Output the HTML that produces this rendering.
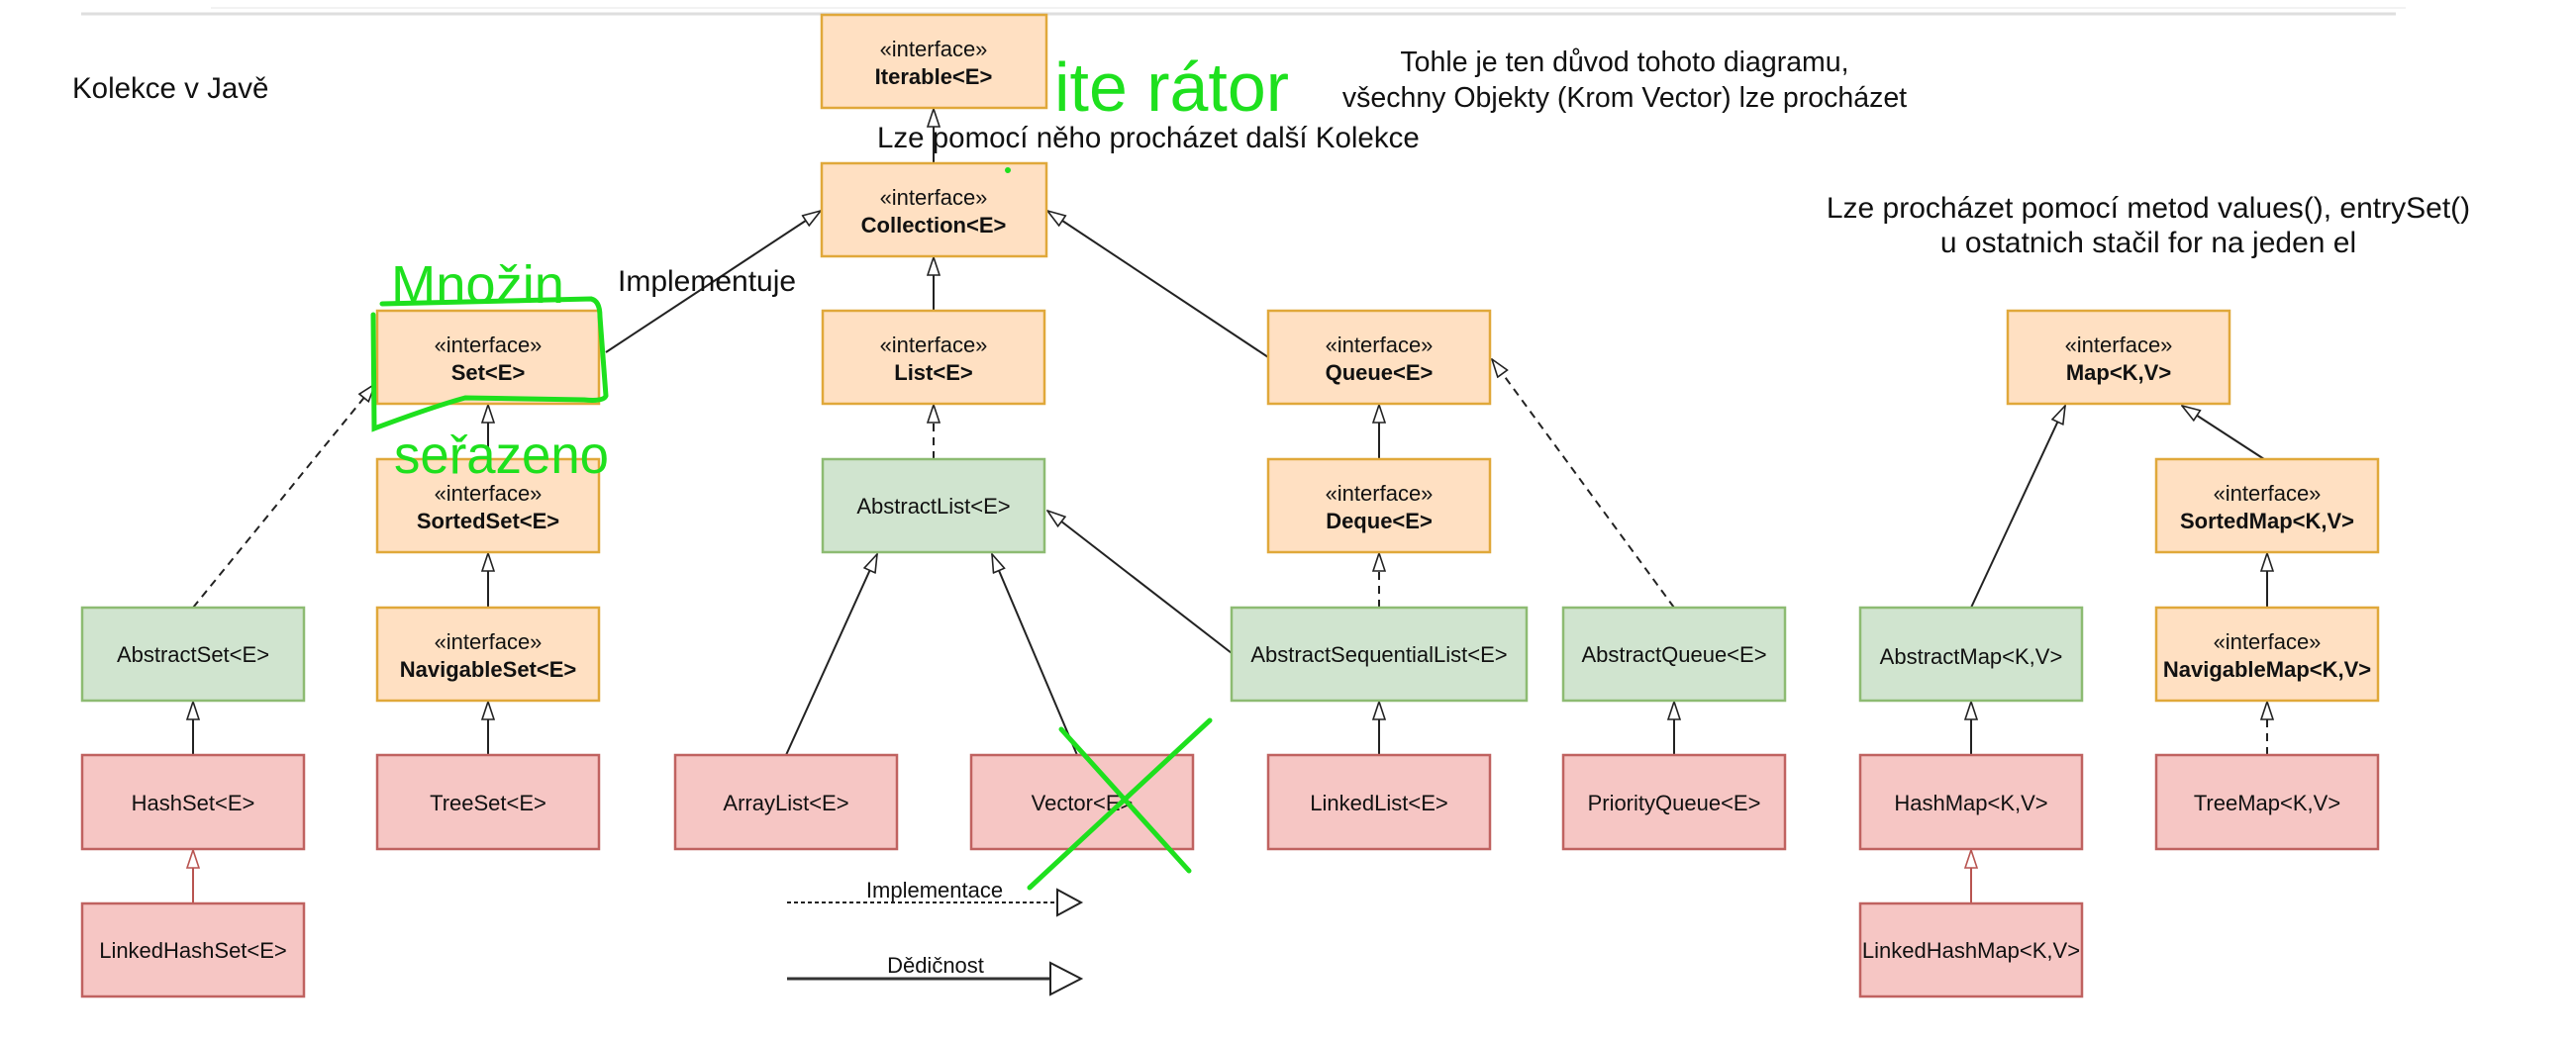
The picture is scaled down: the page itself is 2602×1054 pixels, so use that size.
<!DOCTYPE html>
<html><head><meta charset="utf-8"><style>
html,body{margin:0;padding:0;background:#fff;}
svg{display:block;}
text{font-family:"Liberation Sans",Arial,sans-serif;}
</style></head><body>
<svg width="2602" height="1054" viewBox="0 0 2602 1054" xmlns="http://www.w3.org/2000/svg">
<defs>
<marker id="tri" viewBox="0 0 20 14" refX="19" refY="7" markerWidth="20" markerHeight="14" markerUnits="userSpaceOnUse" orient="auto">
<path d="M1,1 L19,7 L1,13 Z" fill="#fff" stroke="#222" stroke-width="1.6"/>
</marker>
<marker id="trir" viewBox="0 0 20 14" refX="19" refY="7" markerWidth="20" markerHeight="14" markerUnits="userSpaceOnUse" orient="auto">
<path d="M1,1 L19,7 L1,13 Z" fill="#fff" stroke="#b85450" stroke-width="1.6"/>
</marker>
</defs>
<line x1="213" y1="8" x2="2430" y2="8" stroke="#f2f2f2" stroke-width="2"/>
<line x1="82" y1="14" x2="2420" y2="14" stroke="#dedede" stroke-width="3"/>

<g stroke="#222" stroke-width="2" fill="none">
<line x1="943" y1="165" x2="943" y2="110" marker-end="url(#tri)"/>
<line x1="612" y1="356" x2="829" y2="213" marker-end="url(#tri)"/>
<line x1="1281" y1="361" x2="1058" y2="213" marker-end="url(#tri)"/>
<line x1="943" y1="314" x2="943" y2="260" marker-end="url(#tri)"/>
<line x1="943" y1="464" x2="943" y2="409" stroke-dasharray="8,6" marker-end="url(#tri)"/>
<line x1="493" y1="464" x2="493" y2="409" marker-end="url(#tri)"/>
<line x1="195" y1="614" x2="379" y2="388" stroke-dasharray="8,6" marker-end="url(#tri)"/>
<line x1="493" y1="614" x2="493" y2="559" marker-end="url(#tri)"/>
<line x1="195" y1="763" x2="195" y2="709" marker-end="url(#tri)"/>
<line x1="493" y1="763" x2="493" y2="709" marker-end="url(#tri)"/>
<line x1="794" y1="763" x2="886" y2="560" marker-end="url(#tri)"/>
<line x1="1088" y1="763" x2="1002" y2="560" marker-end="url(#tri)"/>
<line x1="1244" y1="660" x2="1058" y2="516" marker-end="url(#tri)"/>
<line x1="1393" y1="464" x2="1393" y2="409" marker-end="url(#tri)"/>
<line x1="1393" y1="614" x2="1393" y2="559" stroke-dasharray="8,6" marker-end="url(#tri)"/>
<line x1="1393" y1="763" x2="1393" y2="709" marker-end="url(#tri)"/>
<line x1="1691" y1="614" x2="1507" y2="363" stroke-dasharray="8,6" marker-end="url(#tri)"/>
<line x1="1691" y1="763" x2="1691" y2="709" marker-end="url(#tri)"/>
<line x1="1991" y1="614" x2="2086" y2="410" marker-end="url(#tri)"/>
<line x1="2287" y1="464" x2="2204" y2="410" marker-end="url(#tri)"/>
<line x1="2290" y1="614" x2="2290" y2="559" marker-end="url(#tri)"/>
<line x1="1991" y1="763" x2="1991" y2="709" marker-end="url(#tri)"/>
<line x1="2290" y1="763" x2="2290" y2="709" stroke-dasharray="8,6" marker-end="url(#tri)"/>
</g>
<line x1="195" y1="913" x2="195" y2="859" stroke="#b85450" stroke-width="2" marker-end="url(#trir)"/>
<line x1="1991" y1="913" x2="1991" y2="859" stroke="#b85450" stroke-width="2" marker-end="url(#trir)"/>

<g fill="#ffe0c2" stroke="#e0a83a" stroke-width="2.5">
<rect x="830" y="15" width="227" height="94"/>
<rect x="830" y="165" width="227" height="94"/>
<rect x="381" y="314" width="224" height="94"/>
<rect x="831" y="314" width="224" height="94"/>
<rect x="1281" y="314" width="224" height="94"/>
<rect x="2028" y="314" width="224" height="94"/>
<rect x="381" y="464" width="224" height="94"/>
<rect x="1281" y="464" width="224" height="94"/>
<rect x="2178" y="464" width="224" height="94"/>
<rect x="381" y="614" width="224" height="94"/>
<rect x="2178" y="614" width="224" height="94"/>
</g>
<g fill="#d0e4cf" stroke="#8dbb72" stroke-width="2.5">
<rect x="831" y="464" width="224" height="94"/>
<rect x="83" y="614" width="224" height="94"/>
<rect x="1244" y="614" width="298" height="94"/>
<rect x="1579" y="614" width="224" height="94"/>
<rect x="1879" y="614" width="224" height="94"/>
</g>
<g fill="#f6c6c4" stroke="#c06260" stroke-width="2.5">
<rect x="83" y="763" width="224" height="95"/>
<rect x="381" y="763" width="224" height="95"/>
<rect x="682" y="763" width="224" height="95"/>
<rect x="981" y="763" width="224" height="95"/>
<rect x="1281" y="763" width="224" height="95"/>
<rect x="1579" y="763" width="224" height="95"/>
<rect x="1879" y="763" width="224" height="95"/>
<rect x="2178" y="763" width="224" height="95"/>
<rect x="83" y="913" width="224" height="94"/>
<rect x="1879" y="913" width="224" height="94"/>
</g>

<g font-size="22" text-anchor="middle" fill="#111">
<text x="943" y="57">«interface»</text><text x="943" y="85" font-weight="bold">Iterable&lt;E&gt;</text>
<text x="943" y="207">«interface»</text><text x="943" y="235" font-weight="bold">Collection&lt;E&gt;</text>
<text x="493" y="356">«interface»</text><text x="493" y="384" font-weight="bold">Set&lt;E&gt;</text>
<text x="943" y="356">«interface»</text><text x="943" y="384" font-weight="bold">List&lt;E&gt;</text>
<text x="1393" y="356">«interface»</text><text x="1393" y="384" font-weight="bold">Queue&lt;E&gt;</text>
<text x="2140" y="356">«interface»</text><text x="2140" y="384" font-weight="bold">Map&lt;K,V&gt;</text>
<text x="493" y="506">«interface»</text><text x="493" y="534" font-weight="bold">SortedSet&lt;E&gt;</text>
<text x="1393" y="506">«interface»</text><text x="1393" y="534" font-weight="bold">Deque&lt;E&gt;</text>
<text x="2290" y="506">«interface»</text><text x="2290" y="534" font-weight="bold">SortedMap&lt;K,V&gt;</text>
<text x="493" y="656">«interface»</text><text x="493" y="684" font-weight="bold">NavigableSet&lt;E&gt;</text>
<text x="2290" y="656">«interface»</text><text x="2290" y="684" font-weight="bold">NavigableMap&lt;K,V&gt;</text>
<text x="943" y="519">AbstractList&lt;E&gt;</text>
<text x="195" y="669">AbstractSet&lt;E&gt;</text>
<text x="1393" y="669">AbstractSequentialList&lt;E&gt;</text>
<text x="1691" y="669">AbstractQueue&lt;E&gt;</text>
<text x="1991" y="671">AbstractMap&lt;K,V&gt;</text>
<text x="195" y="819">HashSet&lt;E&gt;</text>
<text x="493" y="819">TreeSet&lt;E&gt;</text>
<text x="794" y="819">ArrayList&lt;E&gt;</text>
<text x="1093" y="819">Vector&lt;E&gt;</text>
<text x="1393" y="819">LinkedList&lt;E&gt;</text>
<text x="1691" y="819">PriorityQueue&lt;E&gt;</text>
<text x="1991" y="819">HashMap&lt;K,V&gt;</text>
<text x="2290" y="819">TreeMap&lt;K,V&gt;</text>
<text x="195" y="968">LinkedHashSet&lt;E&gt;</text>
<text x="1991" y="968">LinkedHashMap&lt;K,V&gt;</text>
</g>

<g fill="#111">
<text x="73" y="99" font-size="29.5">Kolekce v Javě</text>
<text x="886" y="149" font-size="29.5">Lze pomocí něho procházet další Kolekce</text>
<text x="624" y="294" font-size="30">Implementuje</text>
<text x="1641" y="72" text-anchor="middle" font-size="28.5">Tohle je ten důvod tohoto diagramu,</text>
<text x="1641" y="108" text-anchor="middle" font-size="28.5">všechny Objekty (Krom Vector) lze procházet</text>
<text x="2170" y="220" text-anchor="middle" font-size="30">Lze procházet pomocí metod values(), entrySet()</text>
<text x="2170" y="255" text-anchor="middle" font-size="30">u ostatnich stačil for na jeden el</text>
</g>

<text x="944" y="907" font-size="22" text-anchor="middle" fill="#111">Implementace</text>
<line x1="795" y1="912" x2="1068" y2="912" stroke="#222" stroke-width="2" stroke-dasharray="4,3"/>
<path d="M1068,899 L1092,912 L1068,925 Z" fill="#fff" stroke="#222" stroke-width="2"/>
<text x="945" y="983" font-size="22" text-anchor="middle" fill="#111">Dědičnost</text>
<line x1="795" y1="989" x2="1061" y2="989" stroke="#333" stroke-width="3"/>
<path d="M1061,973 L1092,989 L1061,1005 Z" fill="#fff" stroke="#222" stroke-width="2"/>

<g fill="#1ee01e">
<text x="1065" y="112" font-size="70" textLength="237" lengthAdjust="spacingAndGlyphs">ite rátor</text>
<text x="395" y="306" font-size="54" textLength="175" lengthAdjust="spacingAndGlyphs">Množin</text>
<text x="398" y="478" font-size="54" textLength="217" lengthAdjust="spacingAndGlyphs">seřazeno</text>
</g>
<circle cx="1018" cy="172" r="3" fill="#1ee01e"/>
<g stroke="#1ee01e" stroke-width="5" fill="none" stroke-linecap="round">
<path d="M386,307 L597,302 Q606,304 606,320 L612,400 Q610,406 590,404 L470,402 Q440,410 378,433 L377,318"/>
<line x1="1072" y1="737" x2="1201" y2="880"/>
<line x1="1222" y1="728" x2="1040" y2="897"/>
</g>
</svg>
</body></html>
